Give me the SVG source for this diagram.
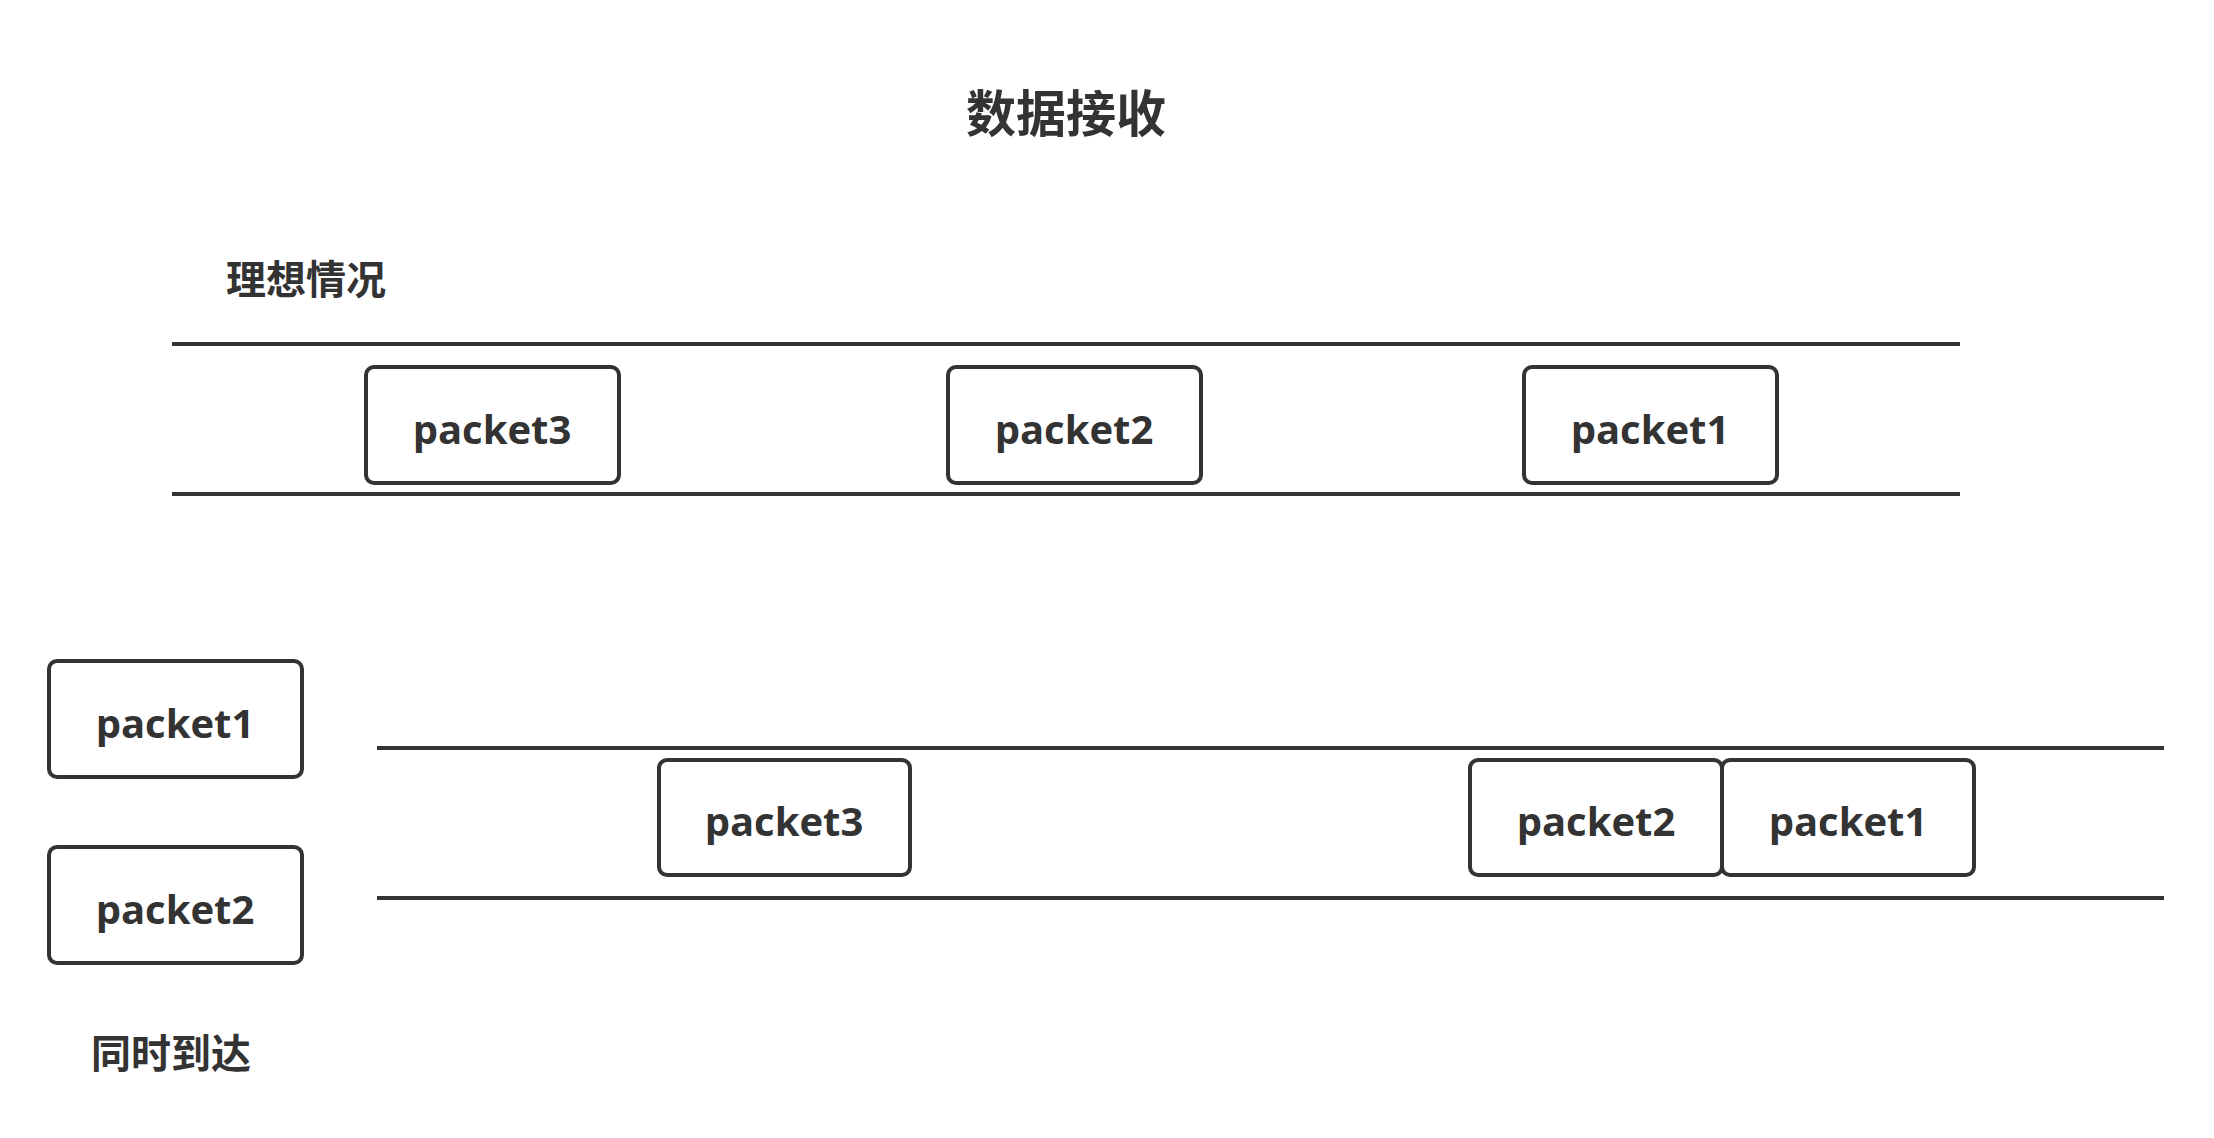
<svg xmlns="http://www.w3.org/2000/svg" width="2214" height="1138" viewBox="0 0 2214 1138">
<style>
.box{fill:#fff;stroke:#333;stroke-width:4}
.lbl{font-family:"Open Sans","Noto Sans",sans-serif;font-weight:bold;font-size:40px;fill:#333;text-anchor:middle}
.cjk{font-family:"Noto Sans CJK SC",sans-serif;font-weight:bold;fill:#333}
.ln{stroke:#333;stroke-width:4}
</style>
<rect width="2214" height="1138" fill="#fff"/>
<text class="cjk" x="1066" y="132" font-size="50" text-anchor="middle">数据接收</text>
<text class="cjk" x="226" y="294" font-size="40">理想情况</text>
<text class="cjk" x="91" y="1068" font-size="40">同时到达</text>
<g id="connectors">
<line class="ln" x1="172" y1="344" x2="1960" y2="344"/>
<line class="ln" x1="172" y1="494" x2="1960" y2="494"/>
<line class="ln" x1="377" y1="748" x2="2164" y2="748"/>
<line class="ln" x1="377" y1="898" x2="2164" y2="898"/>
</g>
<g id="r1p3"><rect class="box" x="366" y="367" width="253" height="116" rx="8"/><text class="lbl" x="492" y="444">packet3</text></g>
<g id="r1p2"><rect class="box" x="948" y="367" width="253" height="116" rx="8"/><text class="lbl" x="1074" y="444">packet2</text></g>
<g id="r1p1"><rect class="box" x="1524" y="367" width="253" height="116" rx="8"/><text class="lbl" x="1650" y="444">packet1</text></g>
<g id="lp1"><rect class="box" x="49" y="661" width="253" height="116" rx="8"/><text class="lbl" x="175" y="738">packet1</text></g>
<g id="lp2"><rect class="box" x="49" y="847" width="253" height="116" rx="8"/><text class="lbl" x="175" y="924">packet2</text></g>
<g id="r2p3"><rect class="box" x="659" y="760" width="251" height="115" rx="8"/><text class="lbl" x="784" y="836">packet3</text></g>
<g id="r2p2"><rect class="box" x="1470" y="760" width="252" height="115" rx="8"/><text class="lbl" x="1596" y="836">packet2</text></g>
<g id="r2p1"><rect class="box" x="1722" y="760" width="252" height="115" rx="8"/><text class="lbl" x="1848" y="836">packet1</text></g>
</svg>
